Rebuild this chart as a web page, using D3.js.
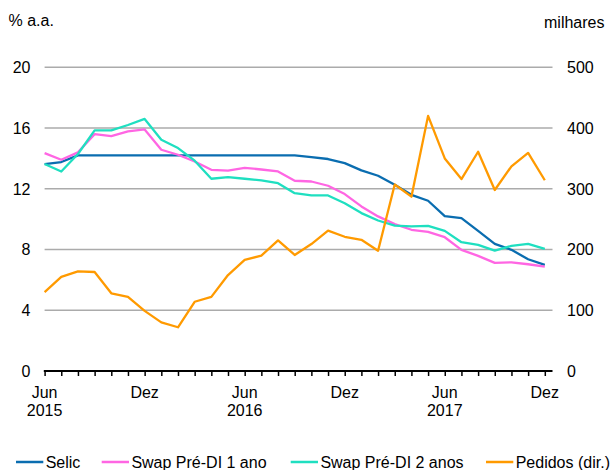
<!DOCTYPE html>
<html>
<head>
<meta charset="utf-8">
<script src="https://cdn.jsdelivr.net/npm/d3@7"></script>
<style>
  html, body { margin: 0; padding: 0; background: #fff; }
  svg { display: block; }
  text { font-family: "Liberation Sans", Arial, sans-serif; font-size: 16px; fill: #000; }
</style>
</head>
<body>
<svg id="chart" width="614" height="470"></svg>
<script>
// Months Jun 2015 .. Dez 2017 (index 0..30)
const months = d3.range(31);
const tickLabels = [
  { i: 0, l1: "Jun", l2: "2015" },
  { i: 6, l1: "Dez", l2: "" },
  { i: 12, l1: "Jun", l2: "2016" },
  { i: 18, l1: "Dez", l2: "" },
  { i: 24, l1: "Jun", l2: "2017" },
  { i: 30, l1: "Dez", l2: "" }
];
const leftTicks = [0, 4, 8, 12, 16, 20];
const rightTicks = [0, 100, 200, 300, 400, 500];

const selic = [13.63,13.76,14.2,14.2,14.2,14.2,14.2,14.2,14.2,14.2,14.2,14.2,14.2,14.2,14.2,14.2,14.09,13.96,13.69,13.21,12.86,12.26,11.6,11.21,10.2,10.07,9.23,8.37,7.98,7.36,6.99];
const swap1 = [14.35,13.91,14.4,15.6,15.47,15.78,15.91,14.57,14.24,13.8,13.25,13.19,13.38,13.27,13.14,12.53,12.48,12.2,11.65,10.84,10.18,9.67,9.3,9.16,8.81,7.98,7.58,7.12,7.16,7.03,6.88];
const swap2 = [13.63,13.14,14.29,15.85,15.85,16.2,16.6,15.23,14.68,13.85,12.66,12.77,12.66,12.55,12.37,11.71,11.56,11.56,11.05,10.4,9.91,9.58,9.52,9.56,9.23,8.48,8.31,7.93,8.24,8.37,8.04];
const pedidos = [130,155,164,163,128,122,99,80,72,114,122,158,183,190,215,191,209,231,221,216,198,307,287,420,350,316,361,298,337,359,314];

const seriesNames = ["Selic", "Swap Pré-DI 1 ano", "Swap Pré-DI 2 anos", "Pedidos (dir.)"];
const seriesColors = ["#0a6db0", "#ff66e3", "#1fdfc0", "#ff9a00"];

const svg = d3.select("#chart");
const x = d3.scaleLinear().domain([0, 30]).range([44.6, 544.8]);
const axisEnd = 552.5;
const y = d3.scaleLinear().domain([0, 20]).range([371, 67.3]);
const yR = d3.scaleLinear().domain([0, 500]).range([371, 67.3]);

// gridlines
svg.append("g").selectAll("line")
  .data(leftTicks.filter(d => d > 0))
  .join("line")
  .attr("x1", x(0)).attr("x2", axisEnd)
  .attr("y1", d => y(d)).attr("y2", d => y(d))
  .attr("stroke", "#ababab").attr("stroke-width", 1.5);

// left tick labels
svg.append("g").selectAll("text")
  .data(leftTicks).join("text")
  .attr("x", 30.5).attr("y", d => y(d) + 5.8)
  .attr("text-anchor", "end")
  .text(d => d);

// right tick labels
svg.append("g").selectAll("text")
  .data(rightTicks).join("text")
  .attr("x", 567).attr("y", d => yR(d) + 5.8)
  .attr("text-anchor", "start")
  .text(d => d);

// axis titles
svg.append("text").attr("x", 8.5).attr("y", 26).text("% a.a.");
svg.append("text").attr("x", 604.5).attr("y", 28.3).attr("text-anchor", "end").text("milhares");

// x axis
const xAxis = d3.axisBottom(x).tickValues(months).tickSize(5).tickFormat("");
const gx = svg.append("g").attr("transform", `translate(0,${y(0)})`).call(xAxis);
gx.select(".domain").remove();
gx.selectAll(".tick line").attr("stroke", "#000").attr("stroke-width", 1.5);
gx.append("line").attr("x1", x(0) - 0.8).attr("x2", axisEnd)
  .attr("y1", 0).attr("y2", 0).attr("stroke", "#000").attr("stroke-width", 2);

const labels = svg.append("g").selectAll("text").data(tickLabels).join("text")
  .attr("text-anchor", "middle");
labels.append("tspan").attr("x", d => x(d.i)).attr("y", 398).text(d => d.l1);
labels.filter(d => d.l2).append("tspan").attr("x", d => x(d.i)).attr("y", 415.7).text(d => d.l2);

// lines
const lineL = d3.line().x((d, i) => x(i)).y(d => y(d));
const lineR = d3.line().x((d, i) => x(i)).y(d => yR(d));
const leftSeries = [selic, swap1, swap2];
leftSeries.forEach((s, k) => {
  svg.append("path").datum(s).attr("d", lineL)
    .attr("fill", "none").attr("stroke", seriesColors[k])
    .attr("stroke-width", 2.3).attr("stroke-linejoin", "round");
});
svg.append("path").datum(pedidos).attr("d", lineR)
  .attr("fill", "none").attr("stroke", seriesColors[3])
  .attr("stroke-width", 2.3).attr("stroke-linejoin", "round");

// legend
const legendX = [16, 101.7, 290.7, 486];
const lg = svg.append("g").selectAll("g").data(seriesNames).join("g")
  .attr("transform", (d, i) => `translate(${legendX[i]},0)`);
lg.append("line").attr("x1", 0).attr("x2", 27.3).attr("y1", 462).attr("y2", 462)
  .attr("stroke", (d, i) => seriesColors[i]).attr("stroke-width", 2.5);
lg.append("text").attr("x", 29.7).attr("y", 467.5).text(d => d);
</script>
</body>
</html>
